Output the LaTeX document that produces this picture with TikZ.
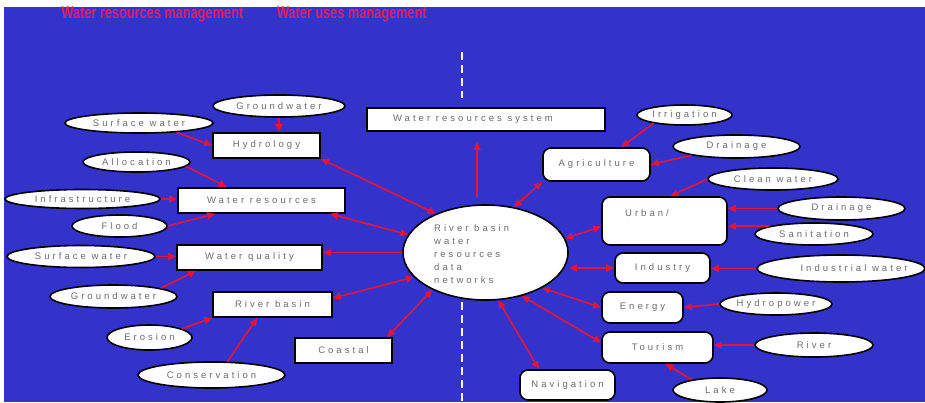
\documentclass[tikz,border=0pt]{standalone}
\usepackage{fontspec}
\setmainfont{Liberation Sans}
\newfontfamily\labfont[LetterSpace=32]{Liberation Sans}
\usetikzlibrary{shapes.geometric,arrows.meta}
\definecolor{bgblue}{RGB}{51,51,204}
\definecolor{arrred}{RGB}{225,20,60}
\definecolor{txtgray}{RGB}{108,108,108}
\definecolor{ttlred}{RGB}{230,30,100}
\newcommand{\labsize}{\labfont\fontsize{9.5}{13}\selectfont}
\tikzset{
  box/.style={draw=black, fill=white, line width=1.6pt, inner sep=0pt, font=\labsize, text=txtgray, rectangle},
  rbox/.style={box, rounded corners=8pt},
  oval/.style={ellipse, draw=black, fill=white, line width=1.6pt, inner sep=0pt, font=\labsize, text=txtgray},
  plain/.style={inner sep=0pt, font=\labsize, text=txtgray},
  ttl/.style={inner sep=0pt, text=ttlred, font=\bfseries\fontsize{17}{17}\selectfont},
  arr/.style={draw=arrred, line width=1.7pt, -{Triangle[length=8pt,width=7pt]}},
  darr/.style={draw=arrred, line width=1.7pt, {Triangle[length=8pt,width=7pt]}-{Triangle[length=8pt,width=7pt]}},
  divider/.style={draw=white, line width=2.5pt, dash pattern=on 8pt off 5pt}
}
\begin{document}
\begin{tikzpicture}[x=1pt,y=-1pt]
\useasboundingbox (0,0) rectangle (925,402);
\fill[white] (0,0) rectangle (925,402);
\fill[bgblue] (4,7) rectangle (925,402);

% titles
\node[ttl] (t1) at (152.5,14.5) {\scalebox{0.75}[1]{Water resources management}};
\node[ttl] (t2) at (352,14.5) {\scalebox{0.75}[1]{Water uses management}};

% divider
\draw[divider] (462,52) -- (462,98);
\draw[divider] (462,302) -- (462,402);

% centre
\node[oval, minimum width=165pt, minimum height=95pt] (ctr) at (485.5,252.5) {};
\node[plain, anchor=west, align=left] (ctrt) at (434,254) {River basin\\water\\resources\\data\\networks};

\node[box, minimum width=238pt, minimum height=23pt] (wrs) at (486,119.5) {};
\node[plain] (wrst) at (473,119.5) {Water resources system};

% left side
\node[oval, minimum width=132pt, minimum height=22pt] (gw1) at (279,106) {Groundwater};
\node[oval, minimum width=148pt, minimum height=20pt] (sw1) at (139,123) {Surface water};
\node[box, minimum width=107pt, minimum height=25pt] (hyd) at (266.5,145.5) {Hydrology};
\node[oval, minimum width=107pt, minimum height=20pt] (alloc) at (136.5,162) {Allocation};
\node[box, minimum width=167pt, minimum height=25pt] (wr) at (261.5,200.5) {Water resources};
\node[oval, minimum width=155pt, minimum height=19pt] (infra) at (82.5,199) {Infrastructure};
\node[oval, minimum width=95pt, minimum height=22pt] (flood) at (119.5,226) {Flood};
\node[oval, minimum width=148pt, minimum height=22pt] (sw2) at (81,256.5) {Surface water};
\node[box, minimum width=145pt, minimum height=25pt] (wq) at (249.5,257.5) {Water quality};
\node[oval, minimum width=127pt, minimum height=23pt] (gw2) at (113.5,296.5) {Groundwater};
\node[box, minimum width=119pt, minimum height=25pt] (rb) at (272.5,304.5) {River basin};
\node[oval, minimum width=85pt, minimum height=25pt] (eros) at (149.5,337.5) {Erosion};
\node[box, minimum width=97pt, minimum height=25pt] (coast) at (343.5,350.5) {Coastal};
\node[oval, minimum width=147pt, minimum height=26pt] (cons) at (211.5,375) {Conservation};

% right side
\node[oval, minimum width=95pt, minimum height=20pt] (irr) at (684.5,115) {Irrigation};
\node[rbox, minimum width=107pt, minimum height=33pt] (agr) at (596.5,164.5) {Agriculture};
\node[oval, minimum width=127pt, minimum height=23pt] (drn1) at (736.5,146.5) {Drainage};
\node[oval, minimum width=130pt, minimum height=22pt] (clean) at (773,179) {Clean water};
\node[rbox, minimum width=125pt, minimum height=48pt] (urb) at (664.5,221) {};
\node[plain] (urbt) at (647,213) {Urban/};
\node[oval, minimum width=127pt, minimum height=23pt] (drn2) at (841.5,208.5) {Drainage};
\node[oval, minimum width=118pt, minimum height=22pt] (san) at (814,234) {Sanitation};
\node[rbox, minimum width=95pt, minimum height=30pt] (ind) at (662.5,268) {Industry};
\node[oval, minimum width=168pt, minimum height=27pt] (indw) at (841,268.5) {};
\node[plain] (indwt) at (854,268.5) {Industrial water};
\node[rbox, minimum width=81pt, minimum height=31pt] (eng) at (642.5,307.5) {Energy};
\node[oval, minimum width=112pt, minimum height=22pt] (hydro) at (776,304) {Hydropower};
\node[rbox, minimum width=111pt, minimum height=31pt] (tour) at (657.5,347.5) {Tourism};
\node[oval, minimum width=118pt, minimum height=24pt] (river) at (814,345) {River};
\node[rbox, minimum width=95pt, minimum height=30pt] (nav) at (567.5,385) {Navigation};
\node[oval, minimum width=94pt, minimum height=24pt] (lake) at (720,390) {Lake};

% connectors left
\draw[arr] (gw1.south) -- (gw1.south |- hyd.north);
\draw[arr] (sw1.-14) -- (hyd.west);
\draw[darr] (hyd.south east) -- (ctr.142);
\draw[arr] (alloc.-5) -- (wr.159);
\draw[arr] (infra.east) -- (infra.east -| wr.west);
\draw[arr] (flood.east) -- (wr.196);
\draw[darr] (wr.-11) -- (ctr.167);
\draw[arr] (sw2.east) -- (sw2.east -| wq.west);
\draw[arr] (ctr.west) -- (ctr.west -| wq.east);
\draw[arr] (gw2.10) -- (wq.194);
\draw[darr] (rb.6) -- (ctr.199);
\draw[arr] (eros.15) -- (rb.south west);
\draw[arr] (cons.40) -- (rb.221);
\draw[darr] (coast.17) -- (ctr.215);
\draw[arr, shorten <=7pt, shorten >=10pt] (ctr.100) -- (ctr.100 |- wrs.south);

% connectors right
\draw[arr] (irr.195) -- (agr.35);
\draw[arr] (drn1.191) -- (agr.east);
\draw[darr] (agr.south west) -- (ctr.58);
\draw[arr] (clean.west) -- (urb.77);
\draw[arr] (drn2.west) -- (drn2.west -| urb.east);
\draw[arr] (san.170) -- (san.170 -| urb.east);
\draw[darr] (urb.185) -- (ctr.10);
\draw[darr] (ind.west) -- (ind.west -| ctr.east);
\draw[arr] (indw.west) -- (indw.west -| ind.east);
\draw[darr] (eng.west) -- (ctr.-32);
\draw[arr] (hydro.west) -- (eng.east);
\draw[darr] (tour.175) -- (ctr.-50);
\draw[arr] (river.west) -- (river.west -| tour.east);
\draw[arr] (lake.160) -- (tour.-64);
\draw[darr] (nav.151) -- (ctr.-75);
\end{tikzpicture}
\end{document}
